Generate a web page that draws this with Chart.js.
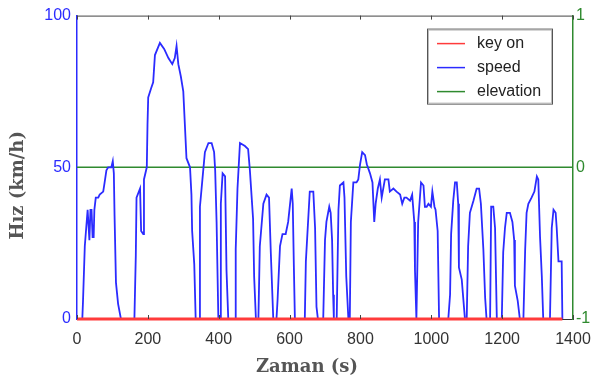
<!DOCTYPE html>
<html>
<head>
<meta charset="utf-8">
<script src="https://cdn.jsdelivr.net/npm/chart.js@4"></script>
<style>
    body { margin: 0; background: #fff; }
    #myChart { display: block; }
</style>
</head>
<body>
<canvas id="myChart" width="592" height="385"></canvas>
<script>
// speed trace (time in s, speed in km/h)
const speedTime = [
    0, 15, 17, 22, 30, 35, 38, 41, 44, 47, 49, 53, 60, 64, 74, 78, 83, 88, 97, 101, 104, 106, 110, 116, 124,
    162, 166, 168, 178, 181, 187, 189, 197, 199, 201, 209, 215, 220, 234, 246, 258, 269, 276, 281, 286, 293, 300, 309, 319, 323, 325, 331, 335,
    345, 347, 354, 361, 371, 380, 387, 390, 394, 399,
    404, 406, 411, 418, 422, 427,
    446, 448, 453, 460, 474, 483, 488, 497, 500, 505,
    512, 516, 526, 535, 542, 547, 554,
    563, 566, 573, 580, 589, 596, 606, 609, 612, 615,
    643, 646, 657, 667, 672, 676, 680,
    695, 700, 704, 712, 716, 720, 723, 725,
    733, 738, 742, 752, 755, 760, 766,
    770, 773, 780, 789, 794, 799, 805, 813, 818, 827, 834, 839, 843, 849, 855, 860, 869, 879, 883, 893, 902, 912, 918, 924, 930, 940, 946, 952, 954, 958,
    963, 971, 978, 982, 987, 992, 999, 1003, 1009, 1012, 1018, 1022,
    1048, 1053, 1056, 1062, 1067, 1072, 1076, 1078, 1086, 1095,
    1100, 1104, 1109, 1119, 1128, 1135, 1140, 1147, 1152, 1156,
    1166, 1169, 1175, 1180, 1185,
    1199, 1203, 1208, 1213, 1222, 1229, 1234, 1236, 1244, 1250,
    1260, 1265, 1269, 1274, 1283, 1291, 1298, 1302, 1307, 1312, 1316,
    1335, 1340, 1345, 1351, 1354, 1359, 1368, 1370
];
const speedValue = [
    0, 0, 6, 24, 36, 26, 36, 36, 27, 27, 36, 40, 40, 41, 42, 45, 49, 50, 50, 52, 48, 34, 12, 5, 0,
    0, 21, 40, 43, 29, 28, 46, 50, 64, 73, 76, 78, 87, 91, 89, 86, 84, 86, 90, 84, 80, 75, 53, 50, 41, 29, 18, 0,
    0, 37, 46, 55, 58, 58, 55, 49, 32, 0,
    0, 38, 48, 47, 16, 0,
    0, 23, 43, 58, 57, 56, 49, 33, 14, 0,
    0, 24, 38, 41, 40, 22, 0,
    0, 6, 24, 28, 28, 32, 43, 38, 18, 0,
    0, 19, 42, 42, 30, 4, 0,
    0, 26, 32, 37, 35, 26, 8, 0,
    0, 36, 44, 45, 40, 14, 0,
    0, 32, 45, 45, 46, 51, 55, 54, 51, 48, 45, 32, 38, 43, 46, 40, 46, 46, 42, 43, 42, 41, 38, 40, 40, 39, 41, 32, 16, 0,
    32, 45, 44, 37, 37, 38, 37, 42, 37, 36, 29, 0,
    0, 8, 28, 39, 45, 45, 38, 17, 13, 0,
    0, 24, 35, 39, 43, 43, 38, 23, 7, 0,
    0, 37, 37, 30, 0,
    0, 22, 30, 35, 35, 32, 26, 11, 6, 0,
    0, 23, 35, 38, 40, 42, 47, 46, 27, 14, 0,
    0, 30, 36, 35, 30, 19, 19, 0
];

const keyTime   = [0, 1370];
const keyValue  = [0, 0];
const elevTime  = [0, 1400];
const elevValue = [0, 0];

const xTicks     = [0, 200, 400, 600, 800, 1000, 1200, 1400];
const speedTicks = [0, 50, 100];
const elevTicks  = [-1, 0, 1];

const BLUE  = '#2b2bff';
const RED   = '#ff3b3b';
const GREEN = '#2f8a2f';

const toPoints = (xs, ys) => xs.map((x, i) => ({ x: x, y: ys[i] }));

// top border, inward tick marks and the boxed legend inside the plot
const framePlugin = {
    id: 'frame',
    afterDatasetsDraw(chart) {
        const { ctx, chartArea: a, scales } = chart;
        ctx.save();
        ctx.strokeStyle = '#444';
        ctx.lineWidth = 1;
        ctx.beginPath();
        ctx.moveTo(a.left, a.top + 0.5);
        ctx.lineTo(a.right, a.top + 0.5);
        xTicks.forEach((v) => {
            const px = Math.round(scales.x.getPixelForValue(v)) + 0.5;
            ctx.moveTo(px, a.top);
            ctx.lineTo(px, a.top + 4);
            ctx.moveTo(px, a.bottom);
            ctx.lineTo(px, a.bottom - 4);
        });
        ctx.stroke();
        ctx.restore();
    },
    afterDraw(chart) {
        const { ctx, chartArea: a } = chart;
        const bx = a.right - 146, by = a.top + 13, bw = 125, bh = 75;
        ctx.save();
        ctx.fillStyle = '#fff';
        ctx.fillRect(bx, by, bw, bh);
        ctx.strokeStyle = '#555';
        ctx.lineWidth = 1;
        ctx.strokeRect(bx + 0.5, by + 0.5, bw, bh);
        ctx.strokeStyle = '#bbb';
        ctx.strokeRect(bx + 1.5, by + 1.5, bw - 2, bh - 2);
        ctx.font = '16px "Liberation Sans", Arial, sans-serif';
        ctx.textBaseline = 'middle';
        chart.data.datasets.forEach((ds, i) => {
            const y = by + 15 + i * 24;
            ctx.strokeStyle = ds.borderColor;
            ctx.lineWidth = 1.5;
            ctx.beginPath();
            ctx.moveTo(bx + 10, y);
            ctx.lineTo(bx + 38, y);
            ctx.stroke();
            ctx.fillStyle = '#222';
            ctx.fillText(ds.label, bx + 50, y);
        });
        ctx.restore();
    }
};

const tickFont  = { family: '"Liberation Sans", Arial, sans-serif', size: 16 };
const titleFont = { family: '"DejaVu Serif", serif', size: 18, weight: 'bold' };
const plain     = (v) => String(v);

const ctx = document.getElementById('myChart');

new Chart(ctx, {
    type: 'line',
    data: {
        datasets: [{
            label: 'key on',
            data: toPoints(keyTime, keyValue),
            borderColor: RED,
            borderWidth: 3,
            pointRadius: 0,
            clip: false,
            yAxisID: 'y'
        }, {
            label: 'speed',
            data: toPoints(speedTime, speedValue),
            borderColor: BLUE,
            borderWidth: 1.8,
            pointRadius: 0,
            tension: 0,
            yAxisID: 'y'
        }, {
            label: 'elevation',
            data: toPoints(elevTime, elevValue),
            borderColor: GREEN,
            borderWidth: 1.5,
            pointRadius: 0,
            yAxisID: 'y2'
        }]
    },
    options: {
        responsive: false,
        animation: false,
        devicePixelRatio: 1,
        layout: { padding: { top: 14, left: 0, right: 0, bottom: 0 } },
        plugins: {
            legend: { display: false },
            tooltip: { enabled: false }
        },
        scales: {
            x: {
                type: 'linear',
                min: 0,
                max: 1400,
                afterFit: (s) => {
                    s.height = 66;
                    s.paddingLeft = 0;
                    s.paddingRight = 0;
                },
                afterBuildTicks: (s) => { s.ticks = xTicks.map((v) => ({ value: v })); },
                grid: { display: false, drawTicks: false },
                border: { color: '#333', width: 1 },
                ticks: { color: '#333', font: tickFont, padding: 11, maxRotation: 0, autoSkip: false, callback: plain },
                title: {
                    display: true,
                    text: 'Zaman (s)\u2003\u2003',
                    color: '#555',
                    font: titleFont,
                    padding: { top: 0, bottom: 7 }
                }
            },
            y: {
                position: 'left',
                min: 0,
                max: 100,
                afterFit: (s) => { s.width = 77; },
                afterBuildTicks: (s) => { s.ticks = speedTicks.map((v) => ({ value: v })); },
                grid: { display: false, drawTicks: false },
                border: { color: BLUE, width: 1.5 },
                ticks: { color: BLUE, font: tickFont, padding: 6, callback: plain },
                title: {
                    display: true,
                    text: 'Hız (km/h)\u2003\u2003',
                    color: '#555',
                    font: titleFont,
                    padding: { top: 8, bottom: 0 }
                }
            },
            y2: {
                position: 'right',
                min: -1,
                max: 1,
                afterFit: (s) => { s.width = 19; },
                afterBuildTicks: (s) => { s.ticks = elevTicks.map((v) => ({ value: v })); },
                grid: { display: false, drawTicks: false },
                border: { color: GREEN, width: 1.5 },
                ticks: { color: GREEN, font: tickFont, padding: 3, callback: plain }
            }
        }
    },
    plugins: [framePlugin]
});
</script>
</body>
</html>
